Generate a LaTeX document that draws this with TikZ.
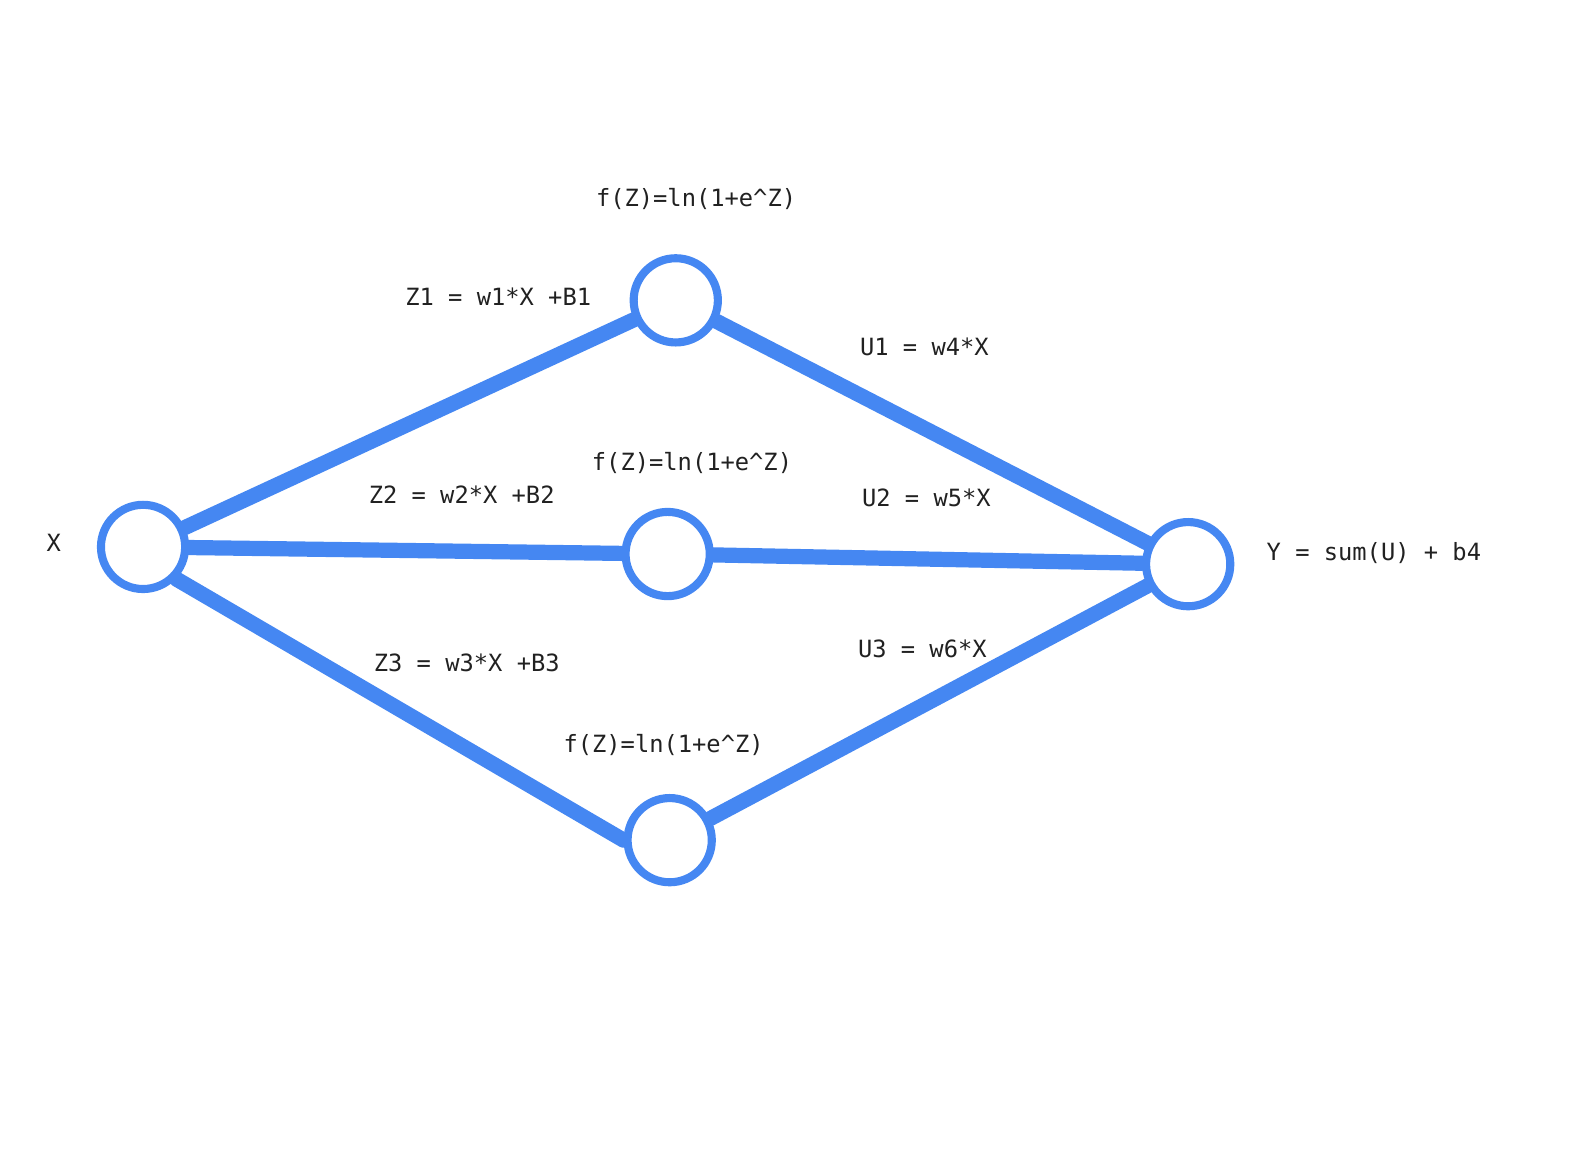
\documentclass[tikz,border=0pt]{standalone}
\usepackage{fontspec}
\setmonofont{DejaVu Sans Mono}
\usepackage{xcolor}
\usetikzlibrary{backgrounds}
\definecolor{unit}{HTML}{4587F2}
\tikzset{
  unit/.style = {circle, draw=unit, fill=white, line width=4pt, minimum size=41.5pt, inner sep=0pt},
  wire/.style = {draw=unit, line width=7.5pt, line cap=round},
  lbl/.style  = {font=\ttfamily\fontsize{11.7}{14}\selectfont, inner sep=0pt, text=black!87},
}

\begin{document}
\begin{tikzpicture}[x=0.5pt, y=-0.5pt]
\useasboundingbox (0,0) rectangle (1568,1152);

% units
\node(x)  [unit] at (141,539) {};
\node(h1) [unit] at (666,296) {};
\node(h2) [unit] at (658,546) {};
\node(h3) [unit] at (660,828) {};
\node(y)  [unit] at (1171,556) {};

% wires
\begin{scope}[on background layer]
\foreach \a/\b in {x/h1, x/h2, x.-44/h3.west, h1/y, h2/y, h3/y} \draw[wire] (\a) -- (\b);
\end{scope}

% labels
\path (53,535)   node(xlab)[lbl]{X}
      (1354,545) node(ylab)[lbl]{Y = sum(U) + b4}
      (686,196)  node(f1)[lbl]{f(Z)=ln(1+e\textasciicircum Z)}
      (682,456)  node(f2)[lbl]{f(Z)=ln(1+e\textasciicircum Z)}
      (654,734)  node(f3)[lbl]{f(Z)=ln(1+e\textasciicircum Z)}
      (491,292)  node(z1)[lbl]{Z1 = w1*X +B1}
      (455,488)  node(z2)[lbl]{Z2 = w2*X +B2}
      (460,653)  node(z3)[lbl]{Z3 = w3*X +B3}
      (911,342)  node(u1)[lbl]{U1 = w4*X}
      (913,491)  node(u2)[lbl]{U2 = w5*X}
      (909,639)  node(u3)[lbl]{U3 = w6*X}
;

\end{tikzpicture}
\end{document}
